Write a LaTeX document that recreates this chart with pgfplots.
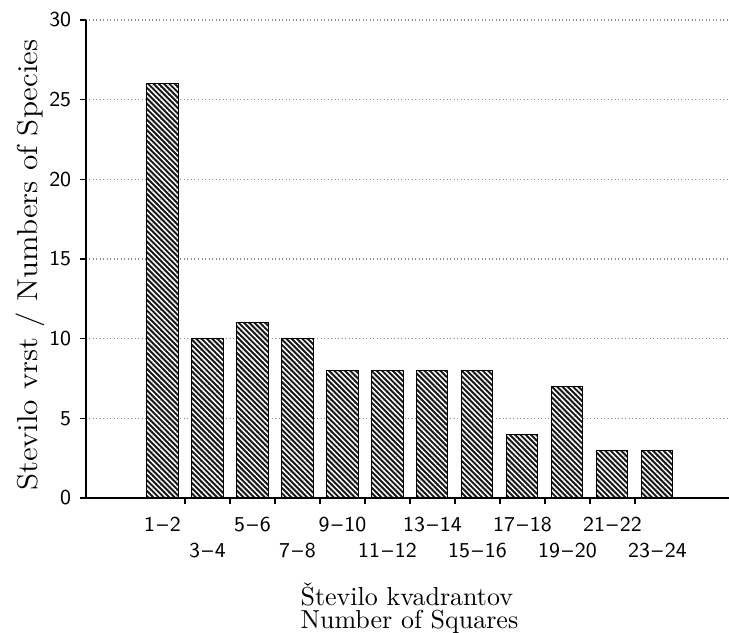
\documentclass[border=0pt]{standalone}
\usepackage{fontspec}
\usepackage{pgfplots}
\pgfplotsset{compat=1.18}
\usetikzlibrary{patterns.meta}
\newcommand{\rg}[2]{\strut#1\kern.8pt--\kern.8pt#2}
\newcommand{\rgl}[2]{\strut\\\strut#1\kern.8pt--\kern.8pt#2}
\begin{document}
\begin{tikzpicture}
\begin{axis}[
  at={(0,0)}, anchor=south west,
  scale only axis,
  width=257.2pt, height=191.2pt,
  xmin=-1.7, xmax=12.59,
  ymin=0, ymax=30,
  axis lines=left,
  axis line style={-, black, line width=0.5pt},
  tick align=outside,
  major tick length=2.4pt,
  tick style={black, line width=0.5pt},
  ytick={0,5,...,30},
  ymajorgrids,
  grid style={densely dotted, black!45, line width=0.5pt},
  yticklabel style={font=\sffamily\fontsize{8.5}{10}\selectfont\addfontfeature{LetterSpace=8}, xshift=0pt},
  /pgf/number format/assume math mode=true,
  xtick={0.5,1.5,...,10.5},
  xticklabels={},
  extra x ticks={0,1,...,11},
  extra x tick labels={\rg{1}{2},\rgl{3}{4},\rg{5}{6},\rgl{7}{8},\rg{9}{10},\rgl{11}{12},\rg{13}{14},\rgl{15}{16},\rg{17}{18},\rgl{19}{20},\rg{21}{22},\rgl{23}{24}},
  extra x tick style={major tick length=0pt, xticklabel style={font=\sffamily\fontsize{8.5}{10.4}\selectfont\addfontfeature{LetterSpace=8}, align=center, anchor=north, yshift=-2.5pt}},
  xlabel={Število kvadrantov\\Number of Squares},
  xlabel style={at={(rel axis cs:0.320,0)}, anchor=north west, yshift=-30.4pt, align=left, font=\fontsize{10.4}{9.2}\selectfont},
  ylabel={\scalebox{1.09}[1]{Stevilo vrst / Numbers of Species}},
  ylabel style={at={(rel axis cs:-0.087,0.487)}, anchor=center, rotate=0, font=\fontsize{11.5}{13}\selectfont},
  clip=false,
]
\addplot[ybar, bar width=0.69, draw=black, line width=0.4pt, fill=black!90,
  postaction={pattern={Lines[angle=-45, distance=1.5pt, line width=0.6pt]}, pattern color=white}]
  coordinates {(0,26) (1,10) (2,11) (3,10) (4,8) (5,8) (6,8) (7,8) (8,4) (9,7) (10,3) (11,3)};
\end{axis}
\pgfresetboundingbox
\path[use as bounding box] (-34.4pt,-54pt) rectangle (257.2pt,199.2pt);
\end{tikzpicture}
\end{document}
